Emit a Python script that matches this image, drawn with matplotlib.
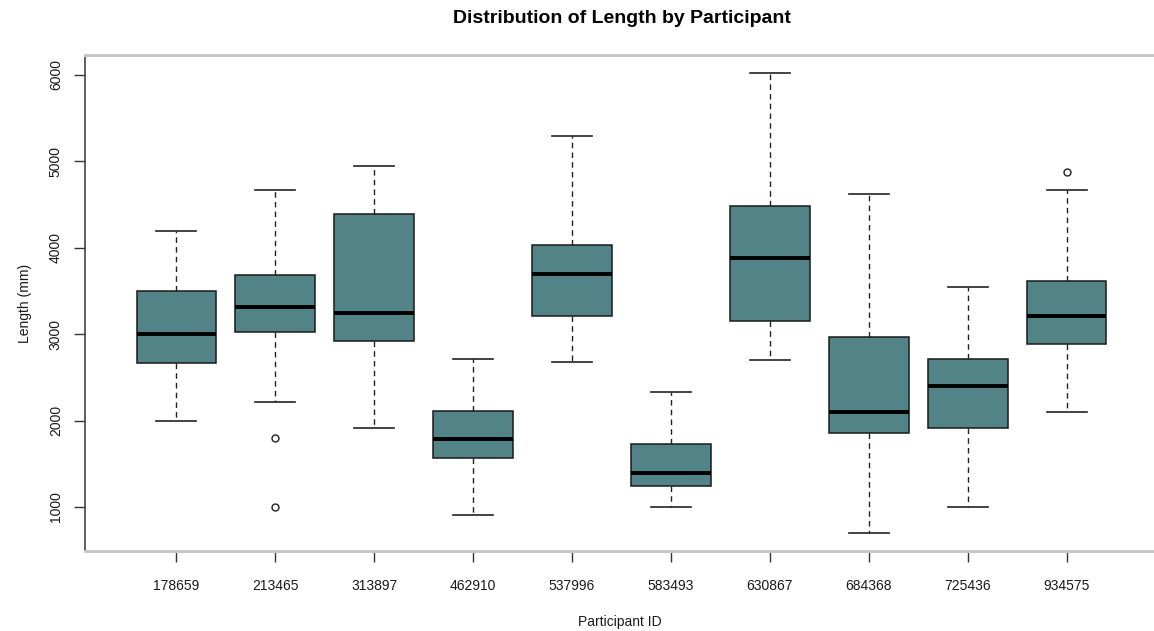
import matplotlib.pyplot as plt

plt.rcParams['font.family'] = ['Liberation Sans', 'DejaVu Sans']

participants = ['178659', '213465', '313897', '462910', '537996',
                '583493', '630867', '684368', '725436', '934575']
whisker_low = [1990, 2215, 1920, 910, 2675, 1000, 2705, 700, 1005, 2100]
q1 = [2670, 3030, 2920, 1570, 3205, 1240, 3155, 1855, 1915, 2890]
median = [3005, 3320, 3250, 1785, 3700, 1390, 3880, 2100, 2395, 3215]
q3 = [3505, 3680, 4395, 2115, 4035, 1725, 4485, 2965, 2710, 3615]
whisker_high = [4200, 4670, 4950, 2710, 5290, 2335, 6020, 4620, 3550, 4670]
outliers = [[], [1800, 1005], [], [], [], [], [], [], [], [4880]]

box_fill = '#528487'

stats = []
for i, pid in enumerate(participants):
    stats.append({
        'label': pid,
        'whislo': whisker_low[i],
        'q1': q1[i],
        'med': median[i],
        'q3': q3[i],
        'whishi': whisker_high[i],
        'fliers': outliers[i],
    })

fig = plt.figure(figsize=(11.54, 6.31), dpi=100)
ax = fig.add_axes([0.0737, 0.1268, 0.9263, 0.786])

ax.bxp(stats, positions=range(1, len(stats) + 1), widths=0.8,
       patch_artist=True,
       boxprops=dict(facecolor=box_fill, edgecolor='#1a1a1a', linewidth=1.1),
       medianprops=dict(color='black', linewidth=2.8),
       whiskerprops=dict(color='#222222', linewidth=1.0,
                         linestyle=(0, (4, 3))),
       capprops=dict(color='#222222', linewidth=1.2),
       capwidths=0.4,
       flierprops=dict(marker='o', markersize=5, markerfacecolor='none',
                       markeredgecolor='#222222', markeredgewidth=1.0))

ax.set_xlim(0.08, 10.88)
ax.set_ylim(491, 6231)
ax.set_yticks([1000, 2000, 3000, 4000, 5000, 6000])
ax.set_xticks(range(1, len(participants) + 1))
ax.set_xticklabels(participants)

for lbl in ax.get_yticklabels():
    lbl.set_rotation(90)
    lbl.set_va('center')

ax.tick_params(axis='both', length=8, width=1.0, color='#333333',
               labelsize=10, labelcolor='#1a1a1a')
ax.tick_params(axis='x', pad=12)
ax.tick_params(axis='y', pad=8)

ax.spines['right'].set_visible(False)
ax.spines['top'].set_color('#c8c8c8')
ax.spines['top'].set_linewidth(2.2)
ax.spines['bottom'].set_color('#c8c8c8')
ax.spines['bottom'].set_linewidth(2.2)
ax.spines['left'].set_color('#444444')
ax.spines['left'].set_linewidth(1.2)

ax.set_xlabel('Participant ID', fontsize=10, color='#1a1a1a', labelpad=16)
ax.set_ylabel('Length (mm)', fontsize=10, color='#1a1a1a', labelpad=12)
fig.text(0.539, 0.971, 'Distribution of Length by Participant',
         ha='center', va='center', fontsize=14, fontweight='bold')

fig.savefig('out.png', dpi=100)
